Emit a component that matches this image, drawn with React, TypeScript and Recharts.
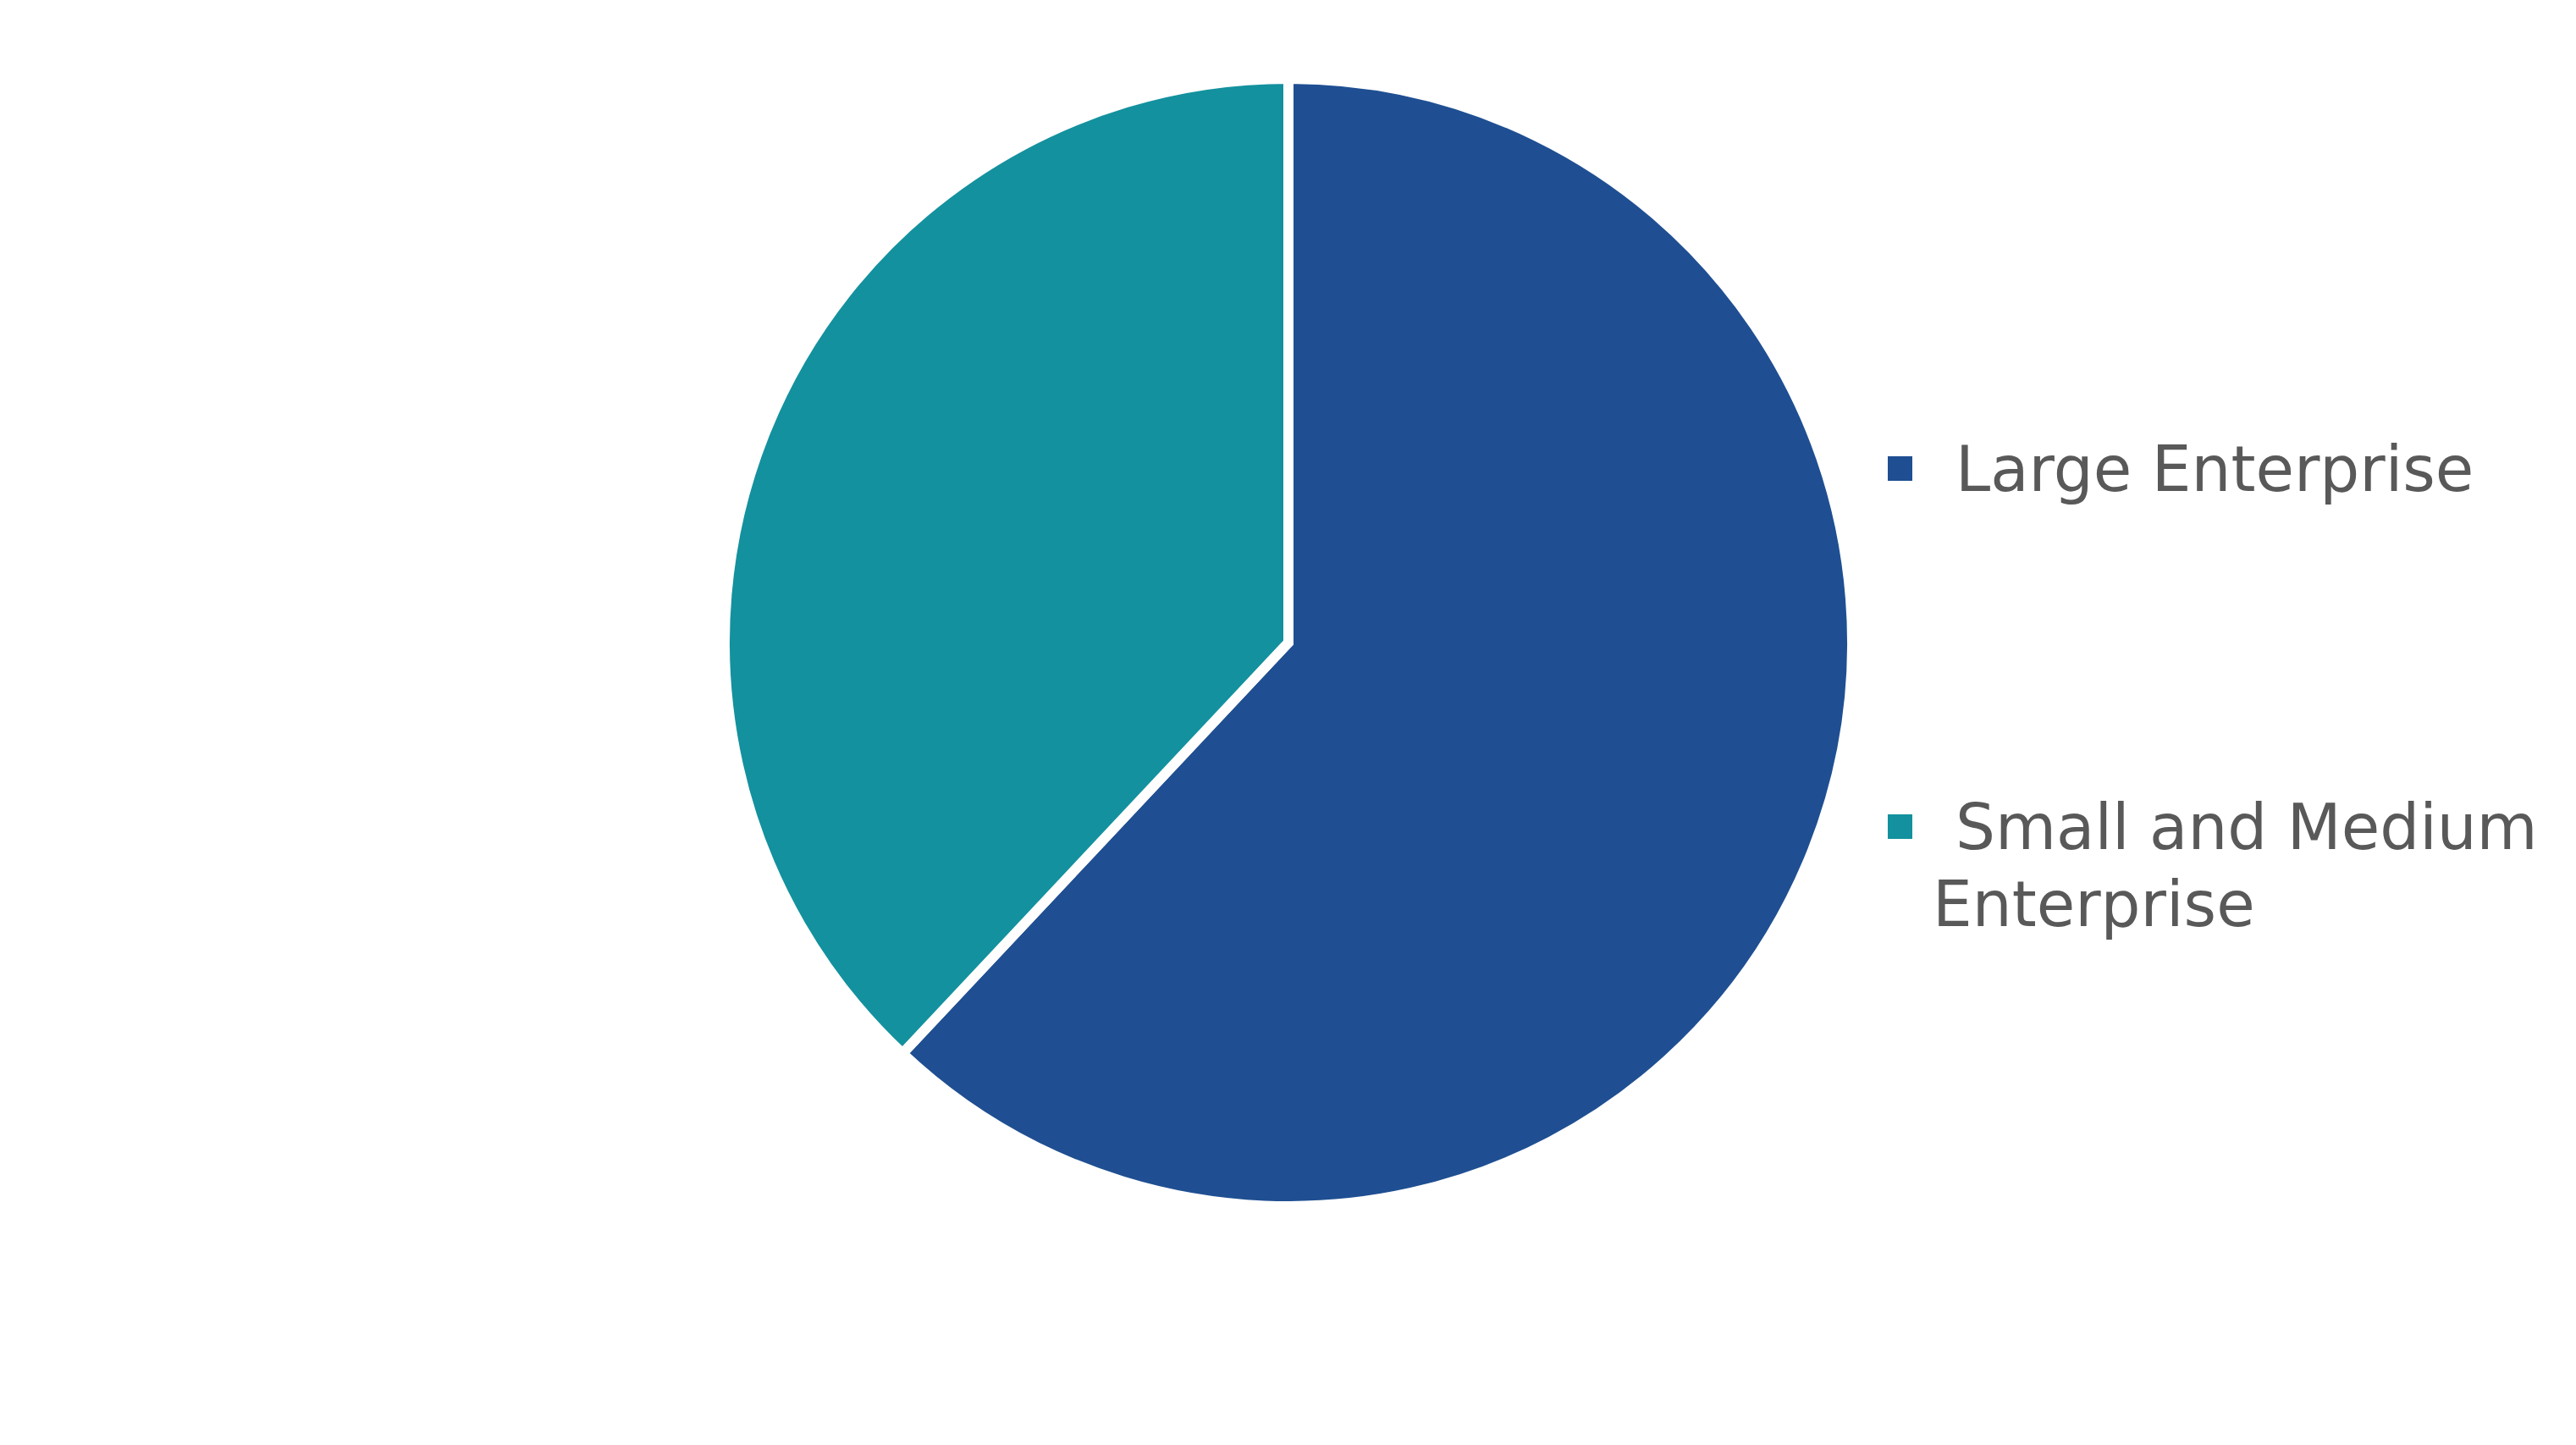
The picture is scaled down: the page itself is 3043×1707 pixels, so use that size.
import React from 'react';
import { PieChart, Pie, Cell, Legend } from 'recharts';

// ─── Data ─────────────────────────────────────────────────────────────────────

const segments = ['Large Enterprise', 'Small and Medium Enterprise'];
const shares = [62, 38];
const colors = ['#1F4F92', '#13919E'];

const data = segments.map((name, i) => ({ name, value: shares[i] }));

const FONT = '"DejaVu Sans", Verdana, sans-serif';

// ─── Legend ───────────────────────────────────────────────────────────────────

function SideLegend({ payload }: any) {
  if (!payload?.length) return null;
  return (
    <div style={{ position: 'relative', width: 813, height: 600 }}>
      {payload.map((p: any, i: number) => (
        <div key={p.value} style={{ position: 'absolute', left: 0, top: i * 423, width: 813 }}>
          <span
            style={{
              position: 'absolute',
              left: 0,
              top: 30,
              width: 29,
              height: 29,
              background: p.color,
            }}
          />
          <div
            style={{
              position: 'absolute',
              left: 53,
              top: 0,
              width: 760,
              textIndent: 27,
              fontFamily: FONT,
              fontSize: 74,
              lineHeight: '91px',
              color: '#595959',
              whiteSpace: 'normal',
            }}
          >
            {p.value}
          </div>
        </div>
      ))}
    </div>
  );
}

// ─── Chart ────────────────────────────────────────────────────────────────────

export default function App() {
  return (
    <div style={{ position: 'absolute', left: 0, top: 0, width: 3043, height: 1707, background: '#fff' }}>
      <PieChart width={3043} height={1707} margin={{ top: 0, right: 0, bottom: 0, left: 0 }}>
        <Pie
          data={data}
          dataKey="value"
          nameKey="name"
          cx={1522}
          cy={759}
          outerRadius={666}
          startAngle={90}
          endAngle={-270}
          stroke="#ffffff"
          strokeWidth={12}
          isAnimationActive={false}
        >
          {data.map((d, i) => (
            <Cell key={d.name} fill={colors[i]} />
          ))}
        </Pie>
        <Legend
          layout="vertical"
          align="right"
          verticalAlign="middle"
          content={<SideLegend />}
          wrapperStyle={{ left: 2230, top: 509, right: 'auto', width: 813 }}
        />
      </PieChart>
    </div>
  );
}
